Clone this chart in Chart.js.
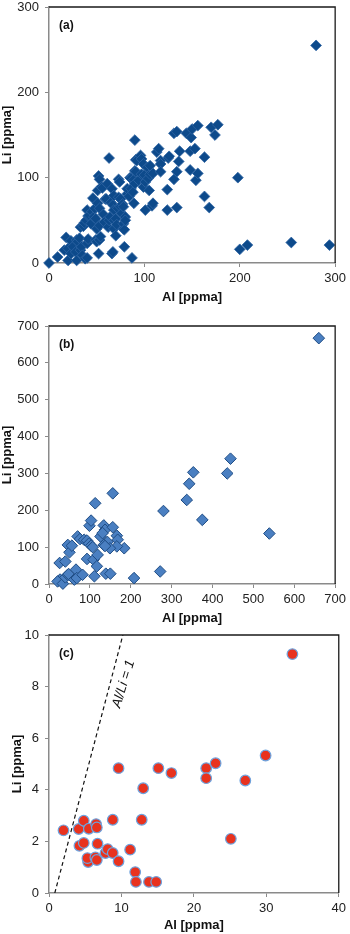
<!DOCTYPE html>
<html><head><meta charset="utf-8">
<script src="https://cdn.jsdelivr.net/npm/chart.js@4/dist/chart.umd.min.js"></script>
<style>
html,body{margin:0;padding:0;background:#fff;width:350px;height:934px;overflow:hidden;position:relative}
.c{position:absolute;left:0;width:350px}
</style></head><body>
<div class="c" style="top:-13px;height:318px"><canvas id="ca"></canvas></div>
<div class="c" style="top:306px;height:320px"><canvas id="cb"></canvas></div>
<div class="c" style="top:615px;height:318px"><canvas id="cc"></canvas></div>
<script>
// ---- Panel (a) ----
const alA = [0,9,16,18,20,20,23,23,25,28,29,29,30,32,33,34,35,38,40,40,41,33,36,37,39,40,41,42,44,45,46,47,48,49,49,50,50,51,51,52,52,53,53,53,53,54,55,56,57,58,59,60,61,62,63,63,64,65,66,66,67,67,68,68,68,68,70,70,71,72,73,73,74,75,75,76,77,78,78,78,79,79,80,80,82,82,84,85,86,86,87,88,89,89,90,90,90,91,91,92,94,96,97,97,99,99,100,101,101,103,104,105,106,106,108,109,109,113,115,117,117,117,124,124,125,126,131,131,134,134,134,136,137,144,148,148,149,150,153,154,156,156,163,163,168,170,174,177,198,200,208,254,294,280];
const liA = [0,7,15,30,3,17,26,11,19,13,3,27,25,29,15,19,9,5,6,23,28,42,43,47,50,62,55,56,46,60,76,54,64,52,27,25,40,70,85,102,11,27,44,64,98,31,89,88,57,48,75,75,93,42,50,123,54,71,87,11,13,68,40,50,62,79,32,52,45,64,77,98,95,66,75,58,69,40,46,66,19,39,54,50,81,87,78,100,87,99,6,83,70,98,93,108,144,107,121,120,97,126,104,122,89,116,103,95,62,112,99,85,104,114,67,70,105,130,134,120,116,107,86,62,123,125,98,152,154,107,65,119,131,152,131,109,147,157,134,97,105,161,78,124,65,159,150,162,100,16,21,24,21,255];
const xTicksA = [0,100,200,300];
const yTicksA = [0,100,200,300];

// ---- Panel (b) ----
const alB = [27,21,34,40,46,48,62,66,68,82,26,40,46,50,56,70,76,86,93,98,103,107,93,109,119,117,111,139,150,99,103,113,156,134,137,156,126,131,166,168,184,166,143,149,134,137,208,272,280,337,343,353,375,436,444,539,660];
const liB = [12,7,1,18,25,27,12,39,16,25,57,61,106,86,104,129,122,120,118,110,104,100,68,66,79,48,21,28,28,158,172,219,246,159,147,154,129,138,131,120,97,102,114,97,106,103,16,34,198,228,272,303,174,300,340,137,667];
const xTicksB = [0,100,200,300,400,500,600,700];
const yTicksB = [0,100,200,300,400,500,600,700];

// ---- Panel (c) ----
const alC = [2.0,4.1,4.8,5.5,6.5,6.6,4.2,4.8,5.4,5.3,6.4,6.6,6.7,7.8,8.1,8.8,8.8,9.6,9.6,11.2,11.9,12.0,12.8,13.0,13.8,14.8,15.1,16.9,21.7,21.7,23.0,25.1,27.1,29.9,33.6];
const liC = [2.43,2.48,2.8,2.49,2.67,2.54,1.83,1.94,1.2,1.35,1.38,1.28,1.91,1.55,1.7,1.55,2.84,1.23,4.84,1.68,0.81,0.43,2.84,4.06,0.43,0.43,4.84,4.65,4.84,4.45,5.03,2.1,4.36,5.33,9.26];
const lineAl = [0.8,10.2];
const lineLi = [0,10];
const lineLabel = 'Al/Li = 1';
const xTicksC = [0,10,20,30,40];
const yTicksC = [0,2,4,6,8,10];

const FONT = "'Liberation Sans', Arial, sans-serif";
const pts = (xs, ys) => xs.map((x, i) => ({x, y: ys[i]}));

const framePlugin = {
  id: 'frame',
  afterDraw(chart, args, o) {
    const {ctx, chartArea: a} = chart;
    ctx.save();
    ctx.strokeStyle = '#1a1a1a';
    ctx.lineWidth = 1.3;
    ctx.beginPath();
    ctx.moveTo(a.left, a.top);
    ctx.lineTo(a.right, a.top);
    ctx.lineTo(a.right, a.bottom);
    ctx.stroke();
    ctx.fillStyle = '#111';
    ctx.font = 'bold 12px ' + FONT;
    ctx.textBaseline = 'middle';
    ctx.textAlign = 'left';
    ctx.fillText(o.label, a.left + 10, a.top + 18.5);
    if (o.lineText) {
      const xs = chart.scales.x, ys = chart.scales.y;
      const px = xs.getPixelForValue(o.lineText.x), py = ys.getPixelForValue(o.lineText.y);
      ctx.translate(px, py);
      ctx.rotate(o.lineText.rot * Math.PI / 180);
      ctx.font = 'italic 13.5px ' + FONT;
      ctx.textAlign = 'center';
      ctx.fillText(o.lineText.text, 0, 0);
    }
    ctx.restore();
  }
};

function makeOpts(xTicks, yTicks, padRight, xH, label, yTitlePad, lineText) {
  const tickFont = {family: FONT, size: 13};
  const titleFont = {family: FONT, size: 13, weight: 'bold'};
  return {
    responsive: true, maintainAspectRatio: false, animation: false,
    layout: {padding: {top: 20, right: padRight, left: 0, bottom: 0}},
    plugins: {legend: {display: false}, tooltip: {enabled: false}, frame: {label, lineText}},
    scales: {
      x: {
        type: 'linear', min: xTicks[0], max: xTicks[xTicks.length - 1],
        afterBuildTicks: s => { s.ticks = xTicks.map(v => ({value: v})); },
        afterFit: s => { s.height = xH; },
        grid: {drawOnChartArea: false, drawTicks: true, tickLength: 4, tickColor: '#8a8a8a'},
        border: {color: '#8a8a8a', width: 1.5},
        ticks: {font: tickFont, color: '#222', padding: 4, maxRotation: 0, autoSkip: false},
        title: {display: true, text: 'Al [ppma]', font: titleFont, color: '#111', padding: {top: 0, bottom: 0}}
      },
      y: {
        type: 'linear', min: yTicks[0], max: yTicks[yTicks.length - 1],
        afterBuildTicks: s => { s.ticks = yTicks.map(v => ({value: v})); },
        afterFit: s => { s.width = 49; },
        grid: {drawOnChartArea: false, drawTicks: true, tickLength: 4, tickColor: '#8a8a8a'},
        border: {color: '#8a8a8a', width: 1.5},
        ticks: {font: tickFont, color: '#222', padding: 6, autoSkip: false},
        title: {display: true, text: 'Li [ppma]', font: titleFont, color: '#111', padding: {top: yTitlePad, bottom: 0}}
      }
    }
  };
}

new Chart(document.getElementById('ca'), {
  type: 'scatter',
  data: {datasets: [{
    data: pts(alA, liA), pointStyle: 'rectRot', pointRadius: 5.4,
    backgroundColor: '#0d4a8b', borderColor: '#2f64a3', borderWidth: 0.8, clip: false
  }]},
  options: makeOpts(xTicksA, yTicksA, 12, 42, '(a)', 0, null),
  plugins: [framePlugin]
});

new Chart(document.getElementById('cb'), {
  type: 'scatter',
  data: {datasets: [{
    data: pts(alB, liB), pointStyle: 'rectRot', pointRadius: 5.8,
    backgroundColor: '#4a7fc1', borderColor: '#1f4d85', borderWidth: 1, clip: false
  }]},
  options: makeOpts(xTicksB, yTicksB, 13, 42, '(b)', 0, null),
  plugins: [framePlugin]
});

new Chart(document.getElementById('cc'), {
  type: 'scatter',
  data: {datasets: [
    {
      data: pts(alC, liC), pointStyle: 'circle', pointRadius: 5.3,
      backgroundColor: '#e8321e', borderColor: '#6ea3de', borderWidth: 1.2, clip: false, order: 0
    },
    {
      type: 'line', data: pts(lineAl, lineLi), showLine: true, pointRadius: 0,
      borderColor: '#111', borderWidth: 1.2, borderDash: [4, 3], fill: false, order: 1
    }
  ]},
  options: makeOpts(xTicksC, yTicksC, 10, 40, '(c)', 10, {text: lineLabel, x: 10.3, y: 8.1, rot: -73}),
  plugins: [framePlugin]
});
</script>
</body></html>
